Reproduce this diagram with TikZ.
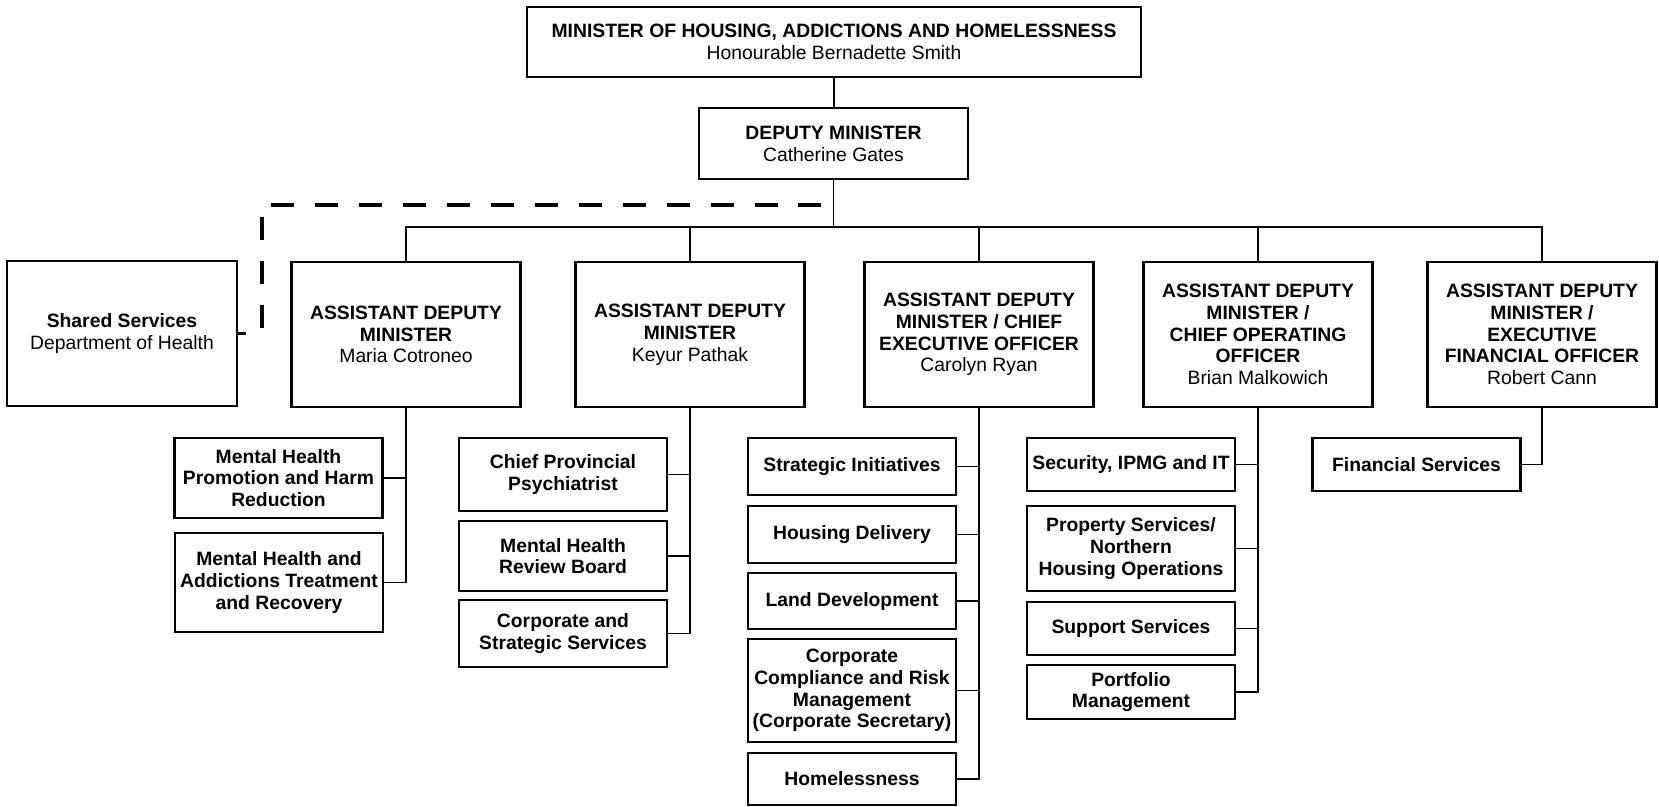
\documentclass[tikz,border=0pt]{standalone}
\usepackage{fontspec}
\setmainfont{Liberation Sans}
\usetikzlibrary{
    positioning,
    calc,
}

\begin{document}
\begin{tikzpicture}[
    x=0.02cm, y=-0.02cm,
    box/.style={draw, line width=1.3pt, fill=white, align=center, inner
    sep=1pt, font=\fontsize{11}{12.4}\selectfont},
    adm/.style={box, minimum width=4.58cm, minimum height=2.9cm},
    branch/.style={box, minimum width=4.16cm},
    link/.style={line width=0.7pt},
    dashlink/.style={line width=1.9pt, dash pattern=on 0.46cm off 0.42cm, dash phase=0.3cm},
]

\useasboundingbox (0,0) rectangle (1659,806);

% MINISTER
\node[box, minimum width=12.28cm, minimum height=1.4cm] at (834,42) (minister)
    {\textbf{MINISTER OF HOUSING, ADDICTIONS AND HOMELESSNESS}\\Honourable Bernadette Smith};
\node[box, minimum width=5.38cm, minimum height=1.42cm] at (833.5,143.5) (deputy)
    {\textbf{DEPUTY MINISTER}\\Catherine Gates};

% SHARED SERVICES
\node[box, minimum width=4.6cm, minimum height=2.9cm] at (122,333.5) (shared)
    {\textbf{Shared Services}\\Department of Health};

% ADMS
\node[adm] at (406,334.5) (adm1) {\textbf{ASSISTANT DEPUTY}\\\textbf{MINISTER}\\Maria Cotroneo};
\node[adm] at (690,334.5) (adm2) {\textbf{ASSISTANT DEPUTY}\\\textbf{MINISTER}\\Keyur Pathak};
\node[adm] at (979,334.5) (adm3) {\textbf{ASSISTANT DEPUTY}\\\textbf{MINISTER / CHIEF}\\\textbf{EXECUTIVE OFFICER}\\Carolyn Ryan};
\node[adm] at (1258,334.5) (adm4) {\textbf{ASSISTANT DEPUTY}\\\textbf{MINISTER /}\\\textbf{CHIEF OPERATING}\\\textbf{OFFICER}\\Brian Malkowich};
\node[adm] at (1542,334.5) (adm5) {\textbf{ASSISTANT DEPUTY}\\\textbf{MINISTER /}\\\textbf{EXECUTIVE}\\\textbf{FINANCIAL OFFICER}\\Robert Cann};

% ADM1 BRANCHES
\node[branch, minimum height=1.6cm] at (278.5,478) (mhpromo)
    {\textbf{Mental Health}\\\textbf{Promotion and Harm}\\\textbf{Reduction}};
\node[branch, minimum height=1.98cm] at (279,582.5) (mhtreat)
    {\textbf{Mental Health and}\\\textbf{Addictions Treatment}\\\textbf{and Recovery}};

% ADM2 BRANCHES
\node[branch, minimum height=1.46cm] at (563,474.5) (psych)
    {\textbf{Chief Provincial}\\\textbf{Psychiatrist}};
\node[branch, minimum height=1.4cm] at (563,556) (review)
    {\textbf{Mental Health}\\\textbf{Review Board}};
\node[branch, minimum height=1.34cm] at (563,633.5) (corpserv)
    {\textbf{Corporate and}\\\textbf{Strategic Services}};

% ADM3 BRANCHES
\node[branch, minimum height=1.14cm] at (852,466.5) (strat) {\textbf{Strategic Initiatives}};
\node[branch, minimum height=1.14cm] at (852,534.5) (delivery) {\textbf{Housing Delivery}};
\node[branch, minimum height=1.12cm] at (852,601) (land) {\textbf{Land Development}};
\node[branch, minimum height=2.06cm] at (852,690.5) (compliance)
    {\textbf{Corporate}\\\textbf{Compliance and Risk}\\\textbf{Management}\\\textbf{(Corporate Secretary)}};
\node[branch, minimum height=1.04cm] at (852,779) (homeless) {\textbf{Homelessness}};

% ADM4 BRANCHES
\node[branch, minimum height=1.06cm] at (1131,464.5) (security) {\textbf{Security, IPMG and IT}};
\node[branch, minimum height=1.7cm] at (1131,548.5) (property)
    {\textbf{Property Services/}\\\textbf{Northern}\\\textbf{Housing Operations}};
\node[branch, minimum height=1.06cm] at (1131,628.5) (support) {\textbf{Support Services}};
\node[branch, minimum height=1.08cm] at (1131,692) (portfolio)
    {\textbf{Portfolio}\\\textbf{Management}};

% ADM5 BRANCHES
\node[branch, minimum height=1.06cm] at (1416.5,464.5) (finance) {\textbf{Financial Services}};

% TOP LINKS
\draw[link] (minister.south) -- (minister.south |- deputy.north);
\coordinate (bus) at (833.5,227);
\draw[link] (deputy.south) -- (bus);
\draw[link] (adm1.north) |- (bus) -| (adm5.north);
\foreach \n in {adm2,adm3,adm4}
    \draw[link] (\n.north) -- (\n.north |- bus);

% DOTTED REPORTING LINE
\coordinate (dashcorner) at (262,205);
\draw[dashlink] (shared.east) -| (dashcorner) -- (dashcorner -| deputy.south);

% BRANCH LINKS
\draw[link] (adm1.south) |- (mhtreat.east);
\draw[link] (mhpromo.east) -- (mhpromo.east -| adm1.south);

\draw[link] (adm2.south) |- (corpserv.east);
\foreach \n in {psych,review}
    \draw[link] (\n.east) -- (\n.east -| adm2.south);

\draw[link] (adm3.south) |- (homeless.east);
\foreach \n in {strat,delivery,land,compliance}
    \draw[link] (\n.east) -- (\n.east -| adm3.south);

\draw[link] (adm4.south) |- (portfolio.east);
\foreach \n in {security,property,support}
    \draw[link] (\n.east) -- (\n.east -| adm4.south);

\draw[link] (adm5.south) |- (finance.east);

\end{tikzpicture}
\end{document}
